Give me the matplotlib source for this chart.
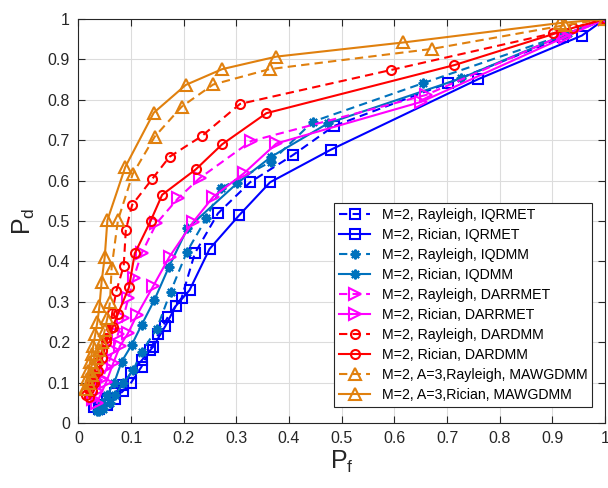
import numpy as np
import matplotlib.pyplot as plt

plt.rcParams['font.family'] = ['Liberation Sans', 'DejaVu Sans']

# ROC points (Pf, Pd)
iqrmet_ray_pf = [0.04, 0.055, 0.07, 0.085, 0.10, 0.12, 0.135, 0.152, 0.170, 0.196, 0.221, 0.265, 0.326, 0.407, 0.485, 0.701, 0.92, 1.0]
iqrmet_ray_pd = [0.035, 0.045, 0.06, 0.08, 0.10, 0.14, 0.18, 0.22, 0.263, 0.310, 0.420, 0.519, 0.596, 0.663, 0.735, 0.841, 0.955, 1.0]
iqrmet_ric_pf = [0.03, 0.04, 0.055, 0.07, 0.085, 0.10, 0.12, 0.142, 0.165, 0.185, 0.211, 0.249, 0.305, 0.364, 0.480, 0.759, 0.956, 1.0]
iqrmet_ric_pd = [0.04, 0.045, 0.06, 0.075, 0.095, 0.125, 0.155, 0.189, 0.24, 0.29, 0.329, 0.431, 0.514, 0.596, 0.677, 0.851, 0.959, 1.0]

iqdmm_ray_pf = [0.04, 0.047, 0.06, 0.07, 0.085, 0.104, 0.12, 0.149, 0.175, 0.206, 0.243, 0.270, 0.366, 0.445, 0.654, 0.92, 1.0]
iqdmm_ray_pd = [0.03, 0.035, 0.05, 0.07, 0.098, 0.131, 0.176, 0.234, 0.325, 0.424, 0.507, 0.581, 0.647, 0.746, 0.841, 0.96, 1.0]
iqdmm_ric_pf = [0.035, 0.045, 0.055, 0.068, 0.082, 0.101, 0.12, 0.144, 0.172, 0.207, 0.301, 0.366, 0.474, 0.726, 0.93, 1.0]
iqdmm_ric_pd = [0.03, 0.05, 0.07, 0.10, 0.152, 0.193, 0.243, 0.304, 0.387, 0.482, 0.593, 0.659, 0.742, 0.853, 0.965, 1.0]

darr_ray_pf = [0.028, 0.035, 0.045, 0.055, 0.065, 0.075, 0.085, 0.095, 0.105, 0.12, 0.148, 0.189, 0.230, 0.328, 0.66, 0.92, 1.0]
darr_ray_pd = [0.06, 0.08, 0.11, 0.14, 0.18, 0.22, 0.26, 0.31, 0.36, 0.42, 0.494, 0.556, 0.606, 0.698, 0.812, 0.96, 1.0]
darr_ric_pf = [0.035, 0.053, 0.066, 0.079, 0.094, 0.111, 0.142, 0.173, 0.218, 0.256, 0.314, 0.376, 0.651, 0.925, 1.0]
darr_ric_pd = [0.05, 0.102, 0.148, 0.191, 0.222, 0.267, 0.339, 0.412, 0.498, 0.56, 0.618, 0.692, 0.795, 0.956, 1.0]

dard_ray_pf = [0.015, 0.02, 0.025, 0.03, 0.037, 0.045, 0.053, 0.061, 0.064, 0.072, 0.086, 0.090, 0.102, 0.140, 0.173, 0.234, 0.307, 0.594, 0.902, 1.0]
dard_ray_pd = [0.07, 0.085, 0.10, 0.12, 0.15, 0.18, 0.21, 0.235, 0.272, 0.327, 0.389, 0.478, 0.540, 0.604, 0.659, 0.710, 0.790, 0.874, 0.965, 1.0]
dard_ric_pf = [0.02, 0.025, 0.03, 0.038, 0.045, 0.053, 0.065, 0.075, 0.096, 0.107, 0.137, 0.159, 0.223, 0.273, 0.357, 0.714, 0.939, 1.0]
dard_ric_pd = [0.065, 0.08, 0.10, 0.13, 0.16, 0.20, 0.238, 0.27, 0.336, 0.42, 0.50, 0.565, 0.628, 0.690, 0.767, 0.886, 0.978, 1.0]

mawg_ray_pf = [0.015, 0.02, 0.025, 0.03, 0.035, 0.04, 0.045, 0.05, 0.055, 0.060, 0.063, 0.075, 0.103, 0.145, 0.196, 0.256, 0.363, 0.671, 0.925, 1.0]
mawg_ray_pd = [0.085, 0.10, 0.12, 0.14, 0.16, 0.18, 0.20, 0.23, 0.26, 0.30, 0.384, 0.502, 0.616, 0.709, 0.783, 0.838, 0.876, 0.926, 0.985, 1.0]
mawg_ric_pf = [0.012, 0.016, 0.019, 0.022, 0.025, 0.028, 0.032, 0.036, 0.040, 0.044, 0.050, 0.055, 0.089, 0.143, 0.204, 0.273, 0.376, 0.617, 0.914, 1.0]
mawg_ric_pd = [0.085, 0.11, 0.13, 0.15, 0.17, 0.19, 0.22, 0.25, 0.29, 0.35, 0.412, 0.502, 0.634, 0.768, 0.837, 0.876, 0.907, 0.942, 0.990, 1.0]

blue = '#0000FF'
teal = '#0072BD'
mag = '#FF00FF'
red = '#FF0000'
orange = '#E0800E'

asterisk = (8, 2, 0)

series = [
    (iqrmet_ray_pf, iqrmet_ray_pd, blue, '--', 's', 'M=2, Rayleigh, IQRMET'),
    (iqrmet_ric_pf, iqrmet_ric_pd, blue, '-', 's', 'M=2, Rician, IQRMET'),
    (iqdmm_ray_pf, iqdmm_ray_pd, teal, '--', asterisk, 'M=2, Rayleigh, IQDMM'),
    (iqdmm_ric_pf, iqdmm_ric_pd, teal, '-', asterisk, 'M=2, Rician, IQDMM'),
    (darr_ray_pf, darr_ray_pd, mag, '--', '>', 'M=2, Rayleigh, DARRMET'),
    (darr_ric_pf, darr_ric_pd, mag, '-', '>', 'M=2, Rician, DARRMET'),
    (dard_ray_pf, dard_ray_pd, red, '--', 'o', 'M=2, Rayleigh, DARDMM'),
    (dard_ric_pf, dard_ric_pd, red, '-', 'o', 'M=2, Rician, DARDMM'),
    (mawg_ray_pf, mawg_ray_pd, orange, '--', '^', 'M=2, A=3,Rayleigh, MAWGDMM'),
    (mawg_ric_pf, mawg_ric_pd, orange, '-', '^', 'M=2, A=3,Rician, MAWGDMM'),
]

fig = plt.figure(figsize=(6.08, 4.88), dpi=100)
ax = fig.add_axes([0.129, 0.133, 0.866, 0.828])

for pf, pd, c, ls, mk, lab in series:
    if mk in ('^', '>'):
        ms = 8
    elif mk == asterisk:
        ms = 7
    else:
        ms = 6.5
    kw = dict(color=c, linestyle=ls, marker=mk, markersize=ms, markerfacecolor='none',
              markeredgecolor=c, markeredgewidth=1.5, linewidth=1.5, label=lab)
    if ls == '--':
        kw['dashes'] = (4, 2.5)
    ax.plot(pf, pd, **kw)

ax.set_xlim(0, 1)
ax.set_ylim(0, 1)
ax.set_xticks(np.arange(0, 1.01, 0.1))
ax.set_yticks(np.arange(0, 1.01, 0.1))
ax.set_xticklabels(['0', '0.1', '0.2', '0.3', '0.4', '0.5', '0.6', '0.7', '0.8', '0.9', '1'])
ax.set_yticklabels(['0', '0.1', '0.2', '0.3', '0.4', '0.5', '0.6', '0.7', '0.8', '0.9', '1'])
ax.grid(True, color='#DCDCDC', linewidth=0.8)
ax.set_axisbelow(True)
ax.tick_params(direction='in', top=True, right=True, length=5, width=0.8,
               colors='#262626', labelsize=11.5, pad=6)
for s in ax.spines.values():
    s.set_color('#262626')
    s.set_linewidth(0.8)

ax.set_xlabel(r'$\mathregular{P_f}$', fontsize=18, color='#262626', labelpad=2)
ax.set_ylabel(r'$\mathregular{P_d}$', fontsize=18, color='#262626', labelpad=8)

leg = ax.legend(loc='lower right', bbox_to_anchor=(0.976, 0.04), fontsize=10.2,
                frameon=True, fancybox=False, edgecolor='#262626', framealpha=1,
                handlelength=2.2, borderpad=0.35, labelspacing=0.42, borderaxespad=0)
leg.get_frame().set_linewidth(0.8)

fig.savefig('out.png', dpi=100)
